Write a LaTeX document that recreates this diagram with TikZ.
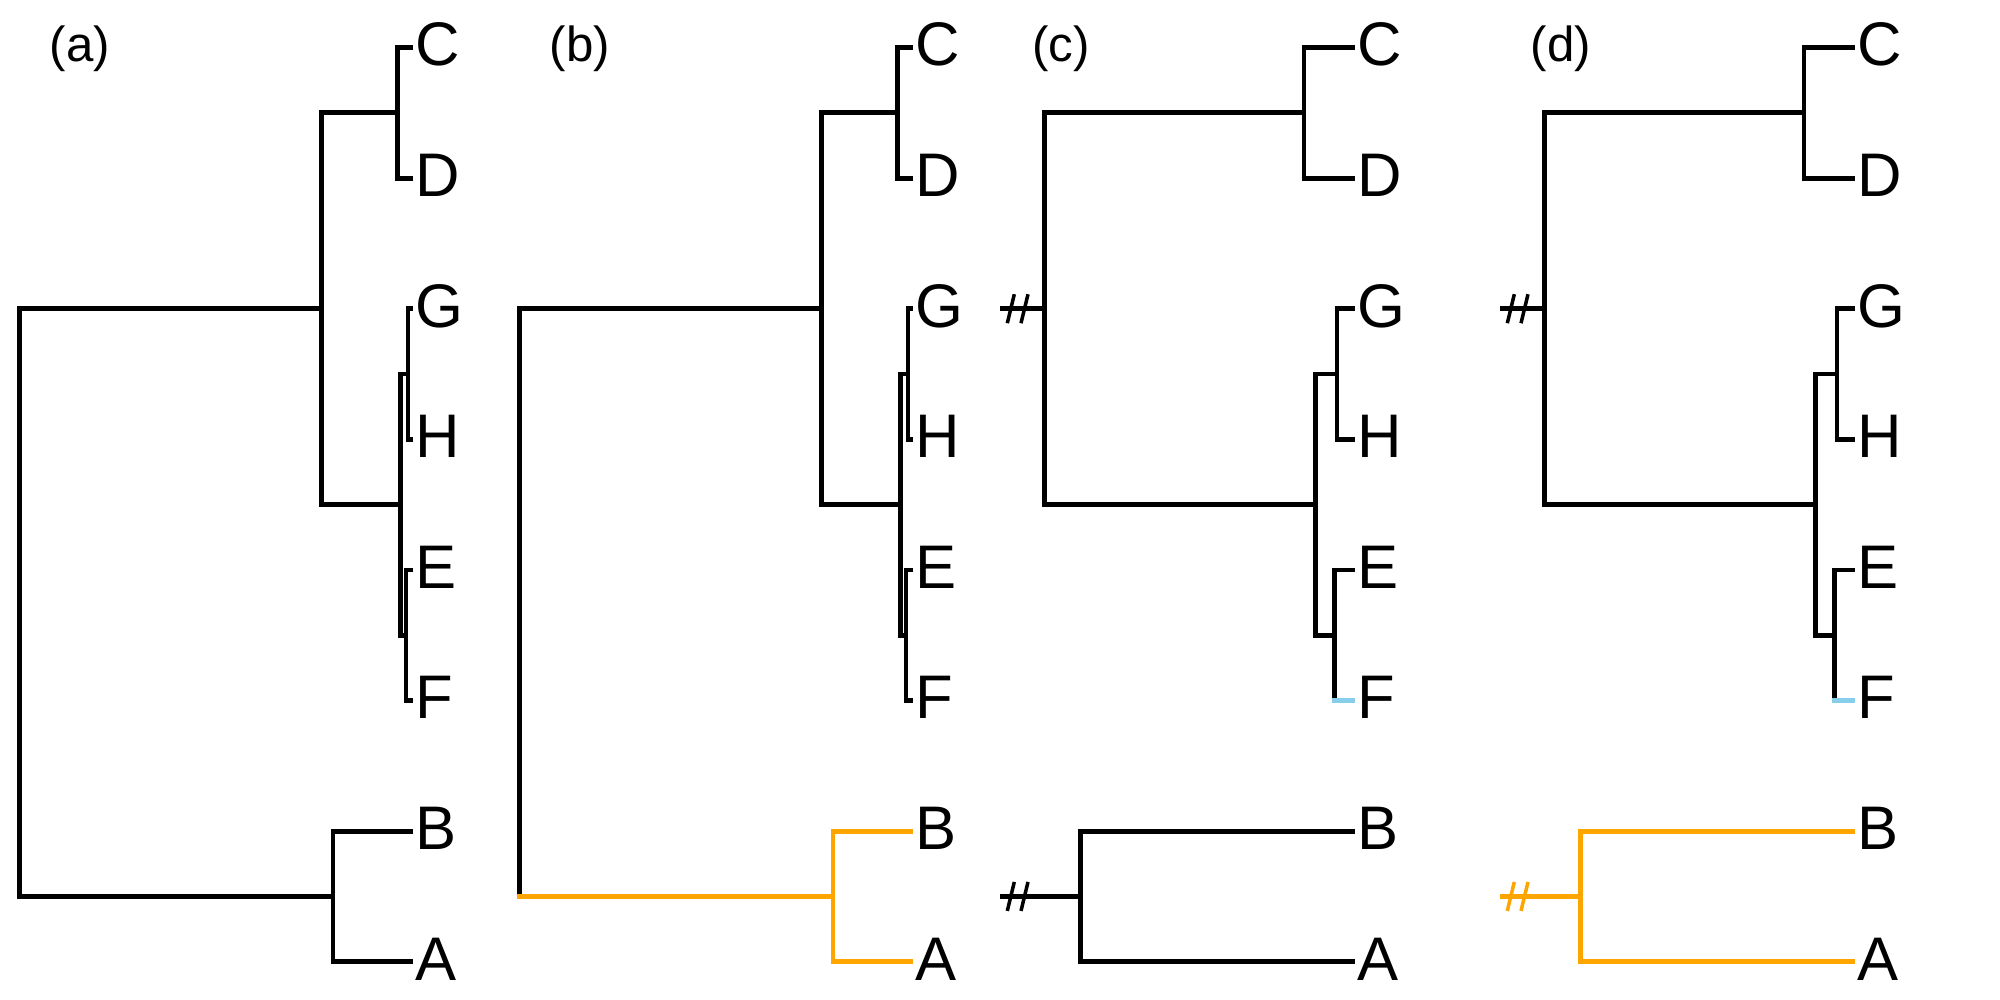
\documentclass[tikz,border=0pt]{standalone}
\usepackage{fontspec}
\setmainfont{Liberation Sans}
\usetikzlibrary{calc}
\definecolor{rorange}{HTML}{FFA500}
\definecolor{rskyblue}{HTML}{87CEEB}
\newcommand\leaffont{\fontsize{17.5}{21}\selectfont}
\newcommand\panelfont{\fontsize{14}{17}\selectfont}
% leaf tips (x = #2) and their labels for the tree with name prefix #1
\newcommand\tipsat[2]{%
  \foreach \n/\k in {C/0,D/1,G/2,H/3,E/4,F/5,B/6,A/7}{%
    \coordinate (#1t\n) at (#2,47.5+130.6*\k);
    \node[leaflabel] (#1l\n) at (#1t\n) {\n};}}
% the two short strokes of a cut branch, drawn about coordinate #2
\newcommand\cutmark[2]{%
  \draw[#1] ($(#2)+(14.3,-14.5)$) -- ($(#2)+(7.3,14.5)$);
  \draw[#1] ($(#2)+(28,-14.5)$) -- ($(#2)+(21,14.5)$);}
\tikzset{
  branch/.style={line width=0.048cm, draw=black},
  outgroup/.style={branch, draw=rorange},
  fbranch/.style={branch, draw=rskyblue},
  slashblack/.style={line width=0.035cm, draw=black},
  slashorange/.style={line width=0.035cm, draw=rorange},
  leaflabel/.style={anchor=base west, inner sep=0pt, xshift=0.015cm,
    yshift=-0.183cm, font=\leaffont},
  panellabel/.style={anchor=center, inner sep=0pt, font=\panelfont},
}
\begin{document}
\begin{tikzpicture}[x=0.01cm, y=-0.01cm]
\useasboundingbox (0,0) rectangle (2000,1000);
\fill[white] (0,0) rectangle (2000,1000);

% ---------- (a) rooted tree ----------
\coordinate (a-root) at (19.5,602.5);
\coordinate (a-cdghef) at (321.7,308.7);
\coordinate (a-cd) at (397.8,112.8);
\coordinate (a-ghef) at (400.5,504.6);
\coordinate (a-gh) at (408,374);
\coordinate (a-ef) at (406,635.2);
\coordinate (a-ab) at (333,896.4);
\tipsat{a-}{413}
\draw[branch] (a-cdghef) -| (a-root) |- (a-ab);
\draw[branch] (a-cd) -| (a-cdghef) |- (a-ghef);
\draw[branch] (a-tC) -| (a-cd) |- (a-tD);
\draw[branch] (a-gh) -| (a-ghef) |- (a-ef);
\draw[branch] (a-tG) -| (a-gh) |- (a-tH);
\draw[branch] (a-tE) -| (a-ef) |- (a-tF);
\draw[branch] (a-tB) -| (a-ab) |- (a-tA);
\node[panellabel] (a-lab) at (80,48.3) {(a)};

% ---------- (b) rooted tree, outgroup highlighted ----------
\coordinate (b-base) at (519.5,896.4);
\coordinate (b-cdghef) at (821.7,308.7);
\coordinate (b-cd) at (897.8,112.8);
\coordinate (b-ghef) at (900.5,504.6);
\coordinate (b-gh) at (908,374);
\coordinate (b-ef) at (906,635.2);
\coordinate (b-ab) at (833,896.4);
\tipsat{b-}{913}
\draw[branch] (b-cdghef) -| (b-base);
\draw[branch] (b-cd) -| (b-cdghef) |- (b-ghef);
\draw[branch] (b-tC) -| (b-cd) |- (b-tD);
\draw[branch] (b-gh) -| (b-ghef) |- (b-ef);
\draw[branch] (b-tG) -| (b-gh) |- (b-tH);
\draw[branch] (b-tE) -| (b-ef) |- (b-tF);
\draw[outgroup] ([xshift=-0.024cm]b-base) -- (b-ab);
\draw[outgroup] (b-tB) -| (b-ab) |- (b-tA);
\node[panellabel] (b-lab) at (580,48.3) {(b)};

% ---------- (c) split into two cut subtrees ----------
\coordinate (c-root) at (1044.5,308.7);
\coordinate (c-cut) at (1000,308.7);
\coordinate (c-cd) at (1304,112.8);
\coordinate (c-ghef) at (1315.5,504.6);
\coordinate (c-gh) at (1337,374);
\coordinate (c-ef) at (1334.5,635.2);
\coordinate (c-ab) at (1080.5,896.4);
\coordinate (c-abcut) at (1000,896.4);
\tipsat{c-}{1355}
\coordinate (c-fbase) at (c-ef |- c-tF);
\draw[branch] (c-cut) -- (c-root);
\draw[branch] (c-cd) -| (c-root) |- (c-ghef);
\draw[branch] (c-tC) -| (c-cd) |- (c-tD);
\draw[branch] (c-gh) -| (c-ghef) |- (c-ef);
\draw[branch] (c-tG) -| (c-gh) |- (c-tH);
\draw[branch] (c-tE) -| (c-ef) -- (c-fbase);
\draw[fbranch] ([xshift=-0.024cm]c-fbase) -- (c-tF);
\draw[branch] (c-abcut) -- (c-ab);
\draw[branch] (c-tB) -| (c-ab) |- (c-tA);
\cutmark{slashblack}{c-cut}
\cutmark{slashblack}{c-abcut}
\node[panellabel] (c-lab) at (1061,48.3) {(c)};

% ---------- (d) cut subtrees, outgroup highlighted ----------
\coordinate (d-root) at (1544.5,308.7);
\coordinate (d-cut) at (1500,308.7);
\coordinate (d-cd) at (1804,112.8);
\coordinate (d-ghef) at (1815.5,504.6);
\coordinate (d-gh) at (1837,374);
\coordinate (d-ef) at (1834.5,635.2);
\coordinate (d-ab) at (1580.5,896.4);
\coordinate (d-abcut) at (1500,896.4);
\tipsat{d-}{1855}
\coordinate (d-fbase) at (d-ef |- d-tF);
\draw[branch] (d-cut) -- (d-root);
\draw[branch] (d-cd) -| (d-root) |- (d-ghef);
\draw[branch] (d-tC) -| (d-cd) |- (d-tD);
\draw[branch] (d-gh) -| (d-ghef) |- (d-ef);
\draw[branch] (d-tG) -| (d-gh) |- (d-tH);
\draw[branch] (d-tE) -| (d-ef) -- (d-fbase);
\draw[fbranch] ([xshift=-0.024cm]d-fbase) -- (d-tF);
\draw[outgroup] (d-abcut) -- (d-ab);
\draw[outgroup] (d-tB) -| (d-ab) |- (d-tA);
\cutmark{slashblack}{d-cut}
\cutmark{slashorange}{d-abcut}
\node[panellabel] (d-lab) at (1561,48.3) {(d)};
\end{tikzpicture}
\end{document}
